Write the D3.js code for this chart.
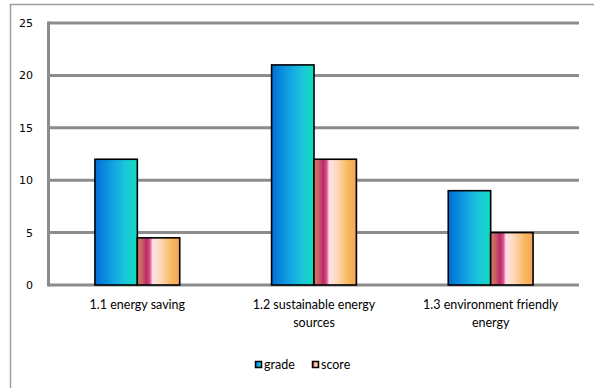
<!DOCTYPE html>
<html><head><meta charset="utf-8">
<script src="https://cdn.jsdelivr.net/npm/d3@7"></script>
<style>
html,body{margin:0;padding:0;background:#fff;}
svg{display:block;}
</style></head>
<body>
<svg id="chart" width="594" height="388"></svg>
<script>
const categories = ["1.1 energy saving", "1.2 sustainable energy sources", "1.3 environment friendly energy"];
const seriesNames = ["grade", "score"];
const grade = [12, 21, 9];
const score = [4.5, 12, 5];
const yTicks = [0, 5, 10, 15, 20, 25];

const svg = d3.select("#chart");
const W = 594, H = 388;
const plot = {left: 49, right: 579, top: 23, bottom: 285};

const defs = svg.append("defs");
const g1 = defs.append("linearGradient").attr("id", "gGrade").attr("x1", "0").attr("x2", "1").attr("y1", "0").attr("y2", "0");
[["0%", "#006ed6"], ["45%", "#12a6e2"], ["70%", "#1cc4dc"], ["100%", "#12dcc0"]].forEach(s => g1.append("stop").attr("offset", s[0]).attr("stop-color", s[1]));
const g2 = defs.append("linearGradient").attr("id", "gScore").attr("x1", "0").attr("x2", "1").attr("y1", "0").attr("y2", "0");
[["0%", "#d4805e"], ["12%", "#c85a6a"], ["22%", "#b82a66"], ["30%", "#e0508a"], ["36%", "#ffe2ea"], ["55%", "#fdd8b8"], ["80%", "#f8b860"], ["92%", "#f6ae58"], ["100%", "#ee9e70"]].forEach(s => g2.append("stop").attr("offset", s[0]).attr("stop-color", s[1]));

// outer frame
svg.append("line").attr("x1", 10).attr("x2", W).attr("y1", 4.5).attr("y2", 4.5).attr("stroke", "#a0a0a0").attr("stroke-width", 1.5);
svg.append("line").attr("x1", 10.5).attr("x2", 10.5).attr("y1", 4).attr("y2", H).attr("stroke", "#a0a0a0").attr("stroke-width", 1.5);

const y = d3.scaleLinear().domain([0, 25]).range([plot.bottom, plot.top]);
const x0 = d3.scaleBand().domain(categories).range([plot.left, plot.right]).paddingInner(0.52).paddingOuter(0.26);
const x1 = d3.scaleBand().domain(seriesNames).range([0, x0.bandwidth()]);

// gridlines
svg.append("g").selectAll("line").data(yTicks).join("line")
  .attr("x1", plot.left - 1).attr("x2", plot.right)
  .attr("y1", d => y(d)).attr("y2", d => y(d))
  .attr("stroke", "#8c8c8c").attr("stroke-width", 3);
svg.append("line").attr("x1", plot.left - 0.5).attr("x2", plot.left - 0.5)
  .attr("y1", y(25) - 1.5).attr("y2", y(0) + 1.5).attr("stroke", "#8c8c8c").attr("stroke-width", 3);

// y axis labels
const yAxis = d3.axisLeft(y).tickValues(yTicks).tickSize(0).tickPadding(0).tickFormat(d3.format("d"));
const ya = svg.append("g").attr("transform", "translate(33,0)").call(yAxis);
ya.select(".domain").remove();
ya.selectAll("text").attr("font-family", "DejaVu Sans").attr("font-size", 11).attr("fill", "#000");

// bars
const data = categories.map((c, i) => ({c, vals: [{k: "grade", v: grade[i]}, {k: "score", v: score[i]}]}));
const grp = svg.append("g").selectAll("g").data(data).join("g").attr("transform", d => `translate(${x0(d.c)},0)`);
grp.selectAll("rect").data(d => d.vals).join("rect")
  .attr("x", d => x1(d.k)).attr("width", x1.bandwidth())
  .attr("y", d => y(d.v)).attr("height", d => y(0) - y(d.v))
  .attr("fill", d => d.k === "grade" ? "url(#gGrade)" : "url(#gScore)")
  .attr("stroke", "#000").attr("stroke-width", 1.6);

// x labels
const xAxis = d3.axisBottom(x0).tickSize(0).tickPadding(0);
const xa = svg.append("g").attr("transform", "translate(0,300)").call(xAxis);
xa.select(".domain").remove();
xa.selectAll("text").attr("font-family", "Lato").attr("font-size", 12.5).attr("fill", "#000").attr("dy", "0.71em")
  .each(function(d) {
    const t = d3.select(this);
    const words = d.split(" ");
    t.text(null);
    let line = [], tspan = t.append("tspan").attr("x", 0).attr("dy", "0.71em");
    let lineNo = 0;
    for (const w of words) {
      line.push(w);
      tspan.text(line.join(" "));
      if (tspan.node().getComputedTextLength() > 150 && line.length > 1) {
        line.pop();
        tspan.text(line.join(" "));
        line = [w];
        tspan = t.append("tspan").attr("x", 0).attr("dy", "1.45em").text(w);
      }
    }
  });

// legend
const leg = svg.append("g").attr("transform", "translate(255,361)");
const items = leg.selectAll("g").data(seriesNames).join("g").attr("transform", (d, i) => `translate(${i * 57},0)`);
items.append("rect").attr("width", 6).attr("height", 6).attr("x", 0.5).attr("y", 0.5)
  .attr("fill", d => d === "grade" ? "url(#gGrade)" : "url(#gScore)").attr("stroke", "#000").attr("stroke-width", 1.5);
items.append("text").attr("x", 9).attr("y", 8).attr("font-family", "Lato").attr("font-size", 12.5).attr("fill", "#000").text(d => d);
</script>
</body></html>
